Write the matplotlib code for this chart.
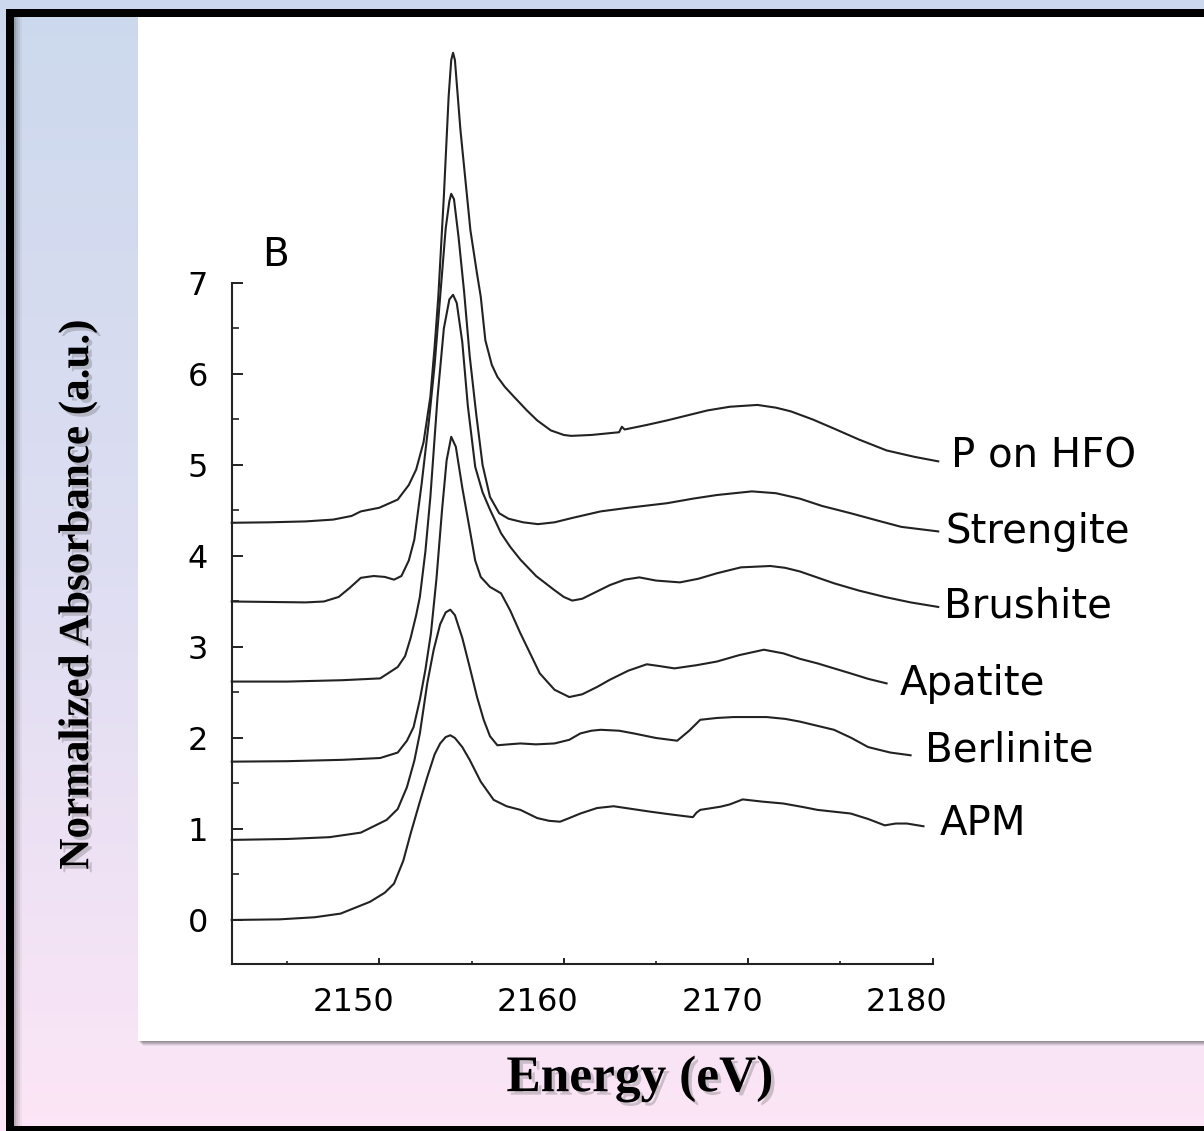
import numpy as np
import matplotlib
matplotlib.use("Agg")
import matplotlib.pyplot as plt
from matplotlib.patches import Rectangle
from matplotlib import patheffects as pe
from matplotlib.transforms import ScaledTranslation

# ---------------- data ----------------
hfo_e = [2142.0, 2144.0, 2146.0, 2147.5, 2148.5, 2149.0, 2150.0, 2151.0, 2151.6, 2152.0,
         2152.4, 2152.77, 2153.0, 2153.2, 2153.5, 2153.76, 2153.9, 2154.0, 2154.1, 2154.4,
         2154.94, 2155.3, 2155.5, 2155.75, 2156.1, 2156.4, 2156.8, 2157.3, 2158.0, 2158.56,
         2159.3, 2160.0, 2160.4, 2161.5, 2162.5, 2163.0, 2163.15, 2163.3, 2164.5, 2165.6,
         2166.8, 2167.8, 2169.0, 2170.5, 2171.5, 2172.3, 2173.5, 2174.65, 2176.0, 2177.5,
         2179.0, 2180.3]
hfo_y = [4.365, 4.37, 4.38, 4.40, 4.44, 4.49, 4.53, 4.62, 4.78, 4.95,
         5.25, 5.75, 6.30, 6.85, 7.95, 9.05, 9.45, 9.53, 9.45, 8.68,
         7.58, 7.10, 6.85, 6.37, 6.10, 5.97, 5.86, 5.75, 5.60, 5.49,
         5.38, 5.33, 5.32, 5.33, 5.35, 5.36, 5.42, 5.39, 5.44, 5.49,
         5.55, 5.60, 5.64, 5.66, 5.63, 5.59, 5.50, 5.40, 5.28, 5.16,
         5.09, 5.04]

str_e = [2142.0, 2144.0, 2146.0, 2147.0, 2147.8, 2148.4, 2149.0, 2149.7, 2150.3, 2150.8,
         2151.2, 2151.6, 2151.9, 2152.3, 2152.7, 2153.0, 2153.3, 2153.6, 2153.8, 2153.9,
         2154.05, 2154.3, 2154.6, 2154.9, 2155.26, 2155.6, 2156.0, 2156.5, 2157.0, 2157.8,
         2158.6, 2159.5, 2160.5, 2162.0, 2163.5, 2165.6, 2167.0, 2168.3, 2170.2, 2171.5,
         2172.8, 2174.0, 2175.55, 2177.0, 2178.3, 2180.3]
str_y = [3.50, 3.495, 3.49, 3.50, 3.55, 3.65, 3.76, 3.78, 3.77, 3.74,
         3.78, 3.95, 4.18, 4.80, 5.50, 6.10, 6.85, 7.60, 7.90, 7.98,
         7.92, 7.50, 6.90, 6.20, 5.55, 5.00, 4.65, 4.47, 4.41, 4.37,
         4.35, 4.37, 4.42, 4.49, 4.53, 4.58, 4.63, 4.67, 4.71, 4.69,
         4.63, 4.55, 4.47, 4.39, 4.32, 4.27]

bru_e = [2142.0, 2145.0, 2148.0, 2150.05, 2151.0, 2151.4, 2151.7, 2152.0, 2152.2, 2152.5,
         2152.77, 2153.16, 2153.5, 2153.8, 2154.0, 2154.2, 2154.5, 2154.8, 2155.2, 2155.6,
         2156.0, 2156.6, 2157.1, 2157.65, 2158.5, 2159.46, 2160.0, 2160.46, 2161.0, 2161.8,
         2162.5, 2163.3, 2164.1, 2165.0, 2166.3, 2167.3, 2168.3, 2169.6, 2171.2, 2172.0,
         2172.8, 2174.65, 2176.0, 2177.4, 2178.8, 2180.3]
bru_y = [2.62, 2.62, 2.635, 2.655, 2.78, 2.90, 3.10, 3.35, 3.55, 4.05,
         4.65, 5.75, 6.50, 6.82, 6.87, 6.78, 6.35, 5.65, 4.98, 4.70,
         4.51, 4.25, 4.10, 3.96, 3.78, 3.63, 3.55, 3.51, 3.53, 3.61,
         3.68, 3.74, 3.765, 3.73, 3.71, 3.75, 3.81, 3.875, 3.89, 3.87,
         3.83, 3.70, 3.62, 3.55, 3.49, 3.44]

apa_e = [2142.0, 2145.0, 2148.0, 2150.05, 2151.0, 2151.5, 2151.86, 2152.2, 2152.5, 2152.8,
         2153.1, 2153.4, 2153.65, 2153.9, 2154.15, 2154.5, 2154.94, 2155.2, 2155.5, 2156.0,
         2156.6, 2157.1, 2157.65, 2158.2, 2158.7, 2159.5, 2160.3, 2161.0, 2161.8, 2162.5,
         2163.5, 2164.5, 2165.2, 2166.0, 2167.2, 2168.3, 2169.5, 2170.85, 2171.9, 2172.8,
         2173.75, 2175.55, 2176.5, 2177.5]
apa_y = [1.74, 1.745, 1.76, 1.78, 1.84, 1.97, 2.12, 2.42, 2.75, 3.15,
         3.75, 4.50, 5.05, 5.31, 5.20, 4.75, 4.25, 3.95, 3.77, 3.66,
         3.59, 3.40, 3.15, 2.92, 2.71, 2.53, 2.45, 2.48, 2.56, 2.64,
         2.74, 2.81, 2.79, 2.765, 2.80, 2.84, 2.91, 2.97, 2.93, 2.87,
         2.82, 2.71, 2.65, 2.60]

ber_e = [2142.0, 2145.0, 2147.3, 2149.0, 2150.4, 2151.0, 2151.5, 2151.9, 2152.2, 2152.6,
         2152.95, 2153.3, 2153.6, 2153.85, 2154.1, 2154.5, 2154.9, 2155.3, 2155.66, 2156.0,
         2156.4, 2157.0, 2157.65, 2158.5, 2159.5, 2160.3, 2160.9, 2161.5, 2162.0, 2163.0,
         2163.8, 2165.0, 2166.15, 2166.8, 2167.4, 2168.3, 2169.2, 2171.0, 2172.0, 2172.8,
         2174.65, 2175.6, 2176.5, 2177.7, 2178.8]
ber_y = [0.88, 0.89, 0.91, 0.96, 1.10, 1.22, 1.46, 1.75, 2.05, 2.60,
         2.97, 3.25, 3.38, 3.41, 3.35, 3.10, 2.78, 2.45, 2.20, 2.02,
         1.92, 1.93, 1.94, 1.93, 1.94, 1.98, 2.05, 2.08, 2.09, 2.08,
         2.05, 2.00, 1.97, 2.08, 2.20, 2.22, 2.23, 2.23, 2.21, 2.18,
         2.09, 2.00, 1.90, 1.84, 1.81]

apm_e = [2142.0, 2144.6, 2146.5, 2147.9, 2149.5, 2150.3, 2150.8, 2151.3, 2151.7, 2152.2,
         2152.6, 2153.0, 2153.3, 2153.6, 2153.85, 2154.1, 2154.5, 2154.9, 2155.5, 2156.2,
         2156.9, 2157.65, 2158.56, 2159.2, 2159.8, 2160.3, 2160.9, 2161.8, 2162.7, 2163.7,
         2164.7, 2165.8, 2167.0, 2167.2, 2167.4, 2168.5, 2169.0, 2169.7, 2170.8, 2171.9,
         2173.0, 2173.75, 2175.55, 2176.5, 2177.4, 2178.0, 2178.6, 2179.5]
apm_y = [0.0, 0.007, 0.03, 0.07, 0.20, 0.30, 0.40, 0.65, 0.95, 1.30,
         1.57, 1.82, 1.94, 2.01, 2.03, 2.00, 1.90, 1.76, 1.52, 1.32,
         1.25, 1.21, 1.12, 1.09, 1.08, 1.12, 1.17, 1.23, 1.25, 1.22,
         1.19, 1.16, 1.13, 1.18, 1.21, 1.245, 1.27, 1.325, 1.30, 1.28,
         1.24, 1.21, 1.17, 1.11, 1.04, 1.06, 1.06, 1.03]

series_names = ["P on HFO", "Strengite", "Brushite", "Apatite", "Berlinite", "APM"]
label_x = [2181.0, 2180.7, 2180.6, 2178.2, 2179.6, 2180.4]
label_y = [5.09, 4.26, 3.45, 2.59, 1.86, 1.05]

x_major = [2150, 2160, 2170, 2180]
x_minor = [2145, 2155, 2165, 2175]
y_major = [0, 1, 2, 3, 4, 5, 6, 7]
y_minor = [0.5, 1.5, 2.5, 3.5, 4.5, 5.5, 6.5]

# ---------------- figure ----------------
W, H, DPI = 1204, 1131, 100
fig = plt.figure(figsize=(W / DPI, H / DPI), dpi=DPI)

bg = fig.add_axes([0, 0, 1, 1], zorder=-10)
bg.set_xlim(0, W)
bg.set_ylim(H, 0)
bg.axis("off")
g = np.linspace(0, 1, 256)[:, None, None]
c_top = np.array([0.80, 0.85, 0.93])[None, None, :]
c_mid = np.array([0.87, 0.87, 0.95])[None, None, :]
c_bot = np.array([0.99, 0.90, 0.965])[None, None, :]
img = np.where(g < 0.5, c_top * (1 - 2 * g) + c_mid * (2 * g),
               c_mid * (2 - 2 * g) + c_bot * (2 * g - 1))
img = np.repeat(img, 2, axis=1)
bg.imshow(img, extent=[0, W, H, 0], aspect="auto", interpolation="bilinear")

# shadow of the white panel
for i, a in enumerate([0.10, 0.10, 0.10, 0.10, 0.08, 0.06]):
    bg.add_patch(Rectangle((138 + i, 17 + i), W - 138, 1041 - 17, fc="black", ec="none", alpha=a))
# shadow along the black frame
for i, a in enumerate([0.10, 0.08, 0.06, 0.04]):
    bg.add_patch(Rectangle((14, 17), 2 + 2 * i, H - 17, fc="black", ec="none", alpha=a))
bg.add_patch(Rectangle((138, 17), W - 138, 1041 - 17, fc="white", ec="none"))
# black frame
bg.add_patch(Rectangle((6, 9), W - 6, 8, fc="black", ec="none"))
bg.add_patch(Rectangle((6, 9), 8, H - 9, fc="black", ec="none"))
bg.add_patch(Rectangle((6, 1126), W - 6, 6, fc="black", ec="none"))

# main axes
ax_l, ax_b = 231.7, 964.3
ax = fig.add_axes([ax_l / W, (H - ax_b) / H, 701 / W, 954.3 / H])
ax.patch.set_visible(False)
ax.set_xlim(2142, 2180)
ax.set_ylim(-0.487, 10.0)
for s in ["top", "right"]:
    ax.spines[s].set_visible(False)
for s in ["left", "bottom"]:
    ax.spines[s].set_linewidth(1.5)
    ax.spines[s].set_color("#222222")
ax.spines["left"].set_bounds(-0.487, 7)

line_kw = dict(color="#222222", lw=1.5, clip_on=False, solid_joinstyle="round")
for xs, ys in [(hfo_e, hfo_y), (str_e, str_y), (bru_e, bru_y),
               (apa_e, apa_y), (ber_e, ber_y), (apm_e, apm_y)]:
    ax.plot(xs, ys, **line_kw)

ax.set_xticks(x_major)
ax.set_xticks(x_minor, minor=True)
ax.set_yticks(y_major)
ax.set_yticks(y_minor, minor=True)
ax.tick_params(axis="x", which="major", direction="in", length=4.5, width=1.4,
               pad=16, labelsize=23, color="#222222")
ax.tick_params(axis="x", which="minor", direction="in", length=2.2, width=1.2, color="#222222")
ax.tick_params(axis="y", which="major", direction="in", length=8, width=1.4,
               pad=17, labelsize=23, color="#222222")
ax.tick_params(axis="y", which="minor", direction="in", length=4.7, width=1.2, color="#222222")
for lab in ax.get_xticklabels():
    lab.set_transform(lab.get_transform() + ScaledTranslation(-26 / DPI, 0, fig.dpi_scale_trans))

for name, lx, ly in zip(series_names, label_x, label_y):
    ax.text(lx, ly, name, fontsize=29, ha="left", va="center", clip_on=False)

ax.text(2143.65, 7.31, "B", fontsize=28, ha="left", va="center")

shadow = [pe.withSimplePatchShadow(offset=(2.5, -2.5), shadow_rgbFace="#606060", alpha=0.3)]
ax.set_xlabel("Energy (eV)", fontsize=37, fontweight="bold", family="Liberation Serif",
              va="center", path_effects=shadow)
ax.xaxis.set_label_coords((640 - ax_l) / 701, -(1079 - ax_b) / 954.3)
ax.set_ylabel("Normalized Absorbance (a.u.)", fontsize=31, fontweight="bold",
              family="Liberation Serif", va="center", path_effects=shadow)
ax.yaxis.set_label_coords((78 - ax_l) / 701, (ax_b - 595) / 954.3)

fig.savefig("out.png", dpi=DPI)
